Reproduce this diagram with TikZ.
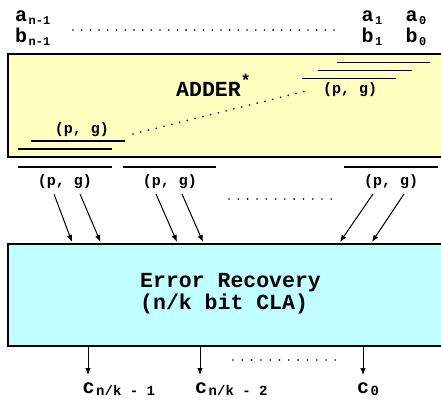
\documentclass[tikz,border=0pt]{standalone}
\usepackage{fontspec}
\usetikzlibrary{arrows.meta}
\newfontfamily\cour{Liberation Mono}
\definecolor{addfill}{RGB}{255,255,192}
\definecolor{recfill}{RGB}{192,255,255}
% lowered index in the mono face
\newcommand{\lo}[2][12]{\hspace{1.5pt}\raisebox{-0.2ex}{\fontsize{#1}{#1}\selectfont #2}}

\begin{document}
\begin{tikzpicture}[x=1pt,y=-1pt,
  big/.style={font=\cour\bfseries\fontsize{20}{20}\selectfont,inner sep=0pt},
  pg/.style={font=\cour\bfseries\fontsize{15}{15}\selectfont,inner sep=0pt},
  bus/.style={line width=1.5pt},
  dots/.style={line width=1.8pt,line cap=round,dash pattern=on 0pt off 8.7pt},
  arr/.style={line width=1pt,-{Latex[length=7pt,width=5.5pt]}}]
\useasboundingbox (0,0) rectangle (441,406);

% operand bits
\node[big,anchor=base west] (an) at (15,22) {a\lo{n-1}};
\node[big,anchor=base west] (bn) at (15,43) {b\lo{n-1}};
\node[big,anchor=base west] (a1) at (361.5,22) {a\lo{1}};
\node[big,anchor=base west] (b1) at (361.5,43) {b\lo{1}};
\node[big,anchor=base west] (a0) at (405.5,22) {a\lo{0}};
\node[big,anchor=base west] (b0) at (405.5,43) {b\lo{0}};
\draw[dots] (73,30) -- (337,30);

% the adder block
\node[draw,line width=2pt,fill=addfill,anchor=north west,
  minimum width=460pt,minimum height=103pt,inner sep=0pt] (add) at (7,53.5) {};
\node[big,font=\cour\bfseries\fontsize{21.5}{21.5}\selectfont,anchor=base west] (addtxt) at (176,97)
  {ADDER\raisebox{0.9ex}{\fontsize{17}{17}\selectfont *}};
\draw[bus] (337,62.5) -- (430,62.5);
\draw[bus] (318,70.5) -- (412,70.5);
\draw[bus] (302,78.5) -- (396,78.5);
\node[pg] (pghi) at (350,90) {(p, g)};
\node[pg] (pglo) at (82,130) {(p, g)};
\draw[bus] (31,141) -- (125,141);
\draw[bus] (18,149) -- (112,149);
\draw[dots,dash pattern=on 0pt off 8pt] (133,134) -- (306,91);

% group outputs
\draw[bus] (18,167) -- (112,167);
\draw[bus] (123,167) -- (216,167);
\draw[bus] (344,167) -- (438,167);
\node[pg] (pgA) at (65,182) {(p, g)};
\node[pg] (pgB) at (170,182) {(p, g)};
\node[pg] (pgC) at (391,182) {(p, g)};
\draw[dots,dash pattern=on 0pt off 9.3pt] (229,199) -- (337,199);

% the recovery block
\node[draw,line width=2pt,fill=recfill,anchor=north west,
  minimum width=460pt,minimum height=102pt,inner sep=0pt] (rec) at (7,243) {};
\node[font=\cour\bfseries\fontsize{21.5}{18.5}\selectfont,inner sep=0pt,
  align=left,anchor=base west] (rectxt) at (140,309) {Error Recovery\\(n/k bit CLA)};

\coordinate (pA1) at (54,194);   \coordinate (rA1) at (72,242);
\coordinate (pA2) at (80,194);   \coordinate (rA2) at (100.5,242);
\coordinate (pB1) at (156,194);  \coordinate (rB1) at (177,242);
\coordinate (pB2) at (182,194);  \coordinate (rB2) at (203,242);
\coordinate (pC1) at (373,194);  \coordinate (rC1) at (340,242);
\coordinate (pC2) at (404,194);  \coordinate (rC2) at (372,242);
\draw[arr] (pA1) -- (rA1);
\draw[arr] (pA2) -- (rA2);
\draw[arr] (pB1) -- (rB1);
\draw[arr] (pB2) -- (rB2);
\draw[arr] (pC1) -- (rC1);
\draw[arr] (pC2) -- (rC2);

% carries
\node[big,anchor=base west] (c1) at (82.5,393) {c\lo[14]{n/k - 1}};
\node[big,anchor=base west] (c2) at (195,393) {c\lo[14]{n/k - 2}};
\node[big,anchor=base west] (c0) at (357,393) {c\lo[14]{0}};
\coordinate (o1) at (88,345);  \coordinate (t1) at (88,375);
\coordinate (o2) at (200,345); \coordinate (t2) at (200,375);
\coordinate (o0) at (363,345); \coordinate (t0) at (363,375);
\draw[arr] (o1) -- (t1);
\draw[arr] (o2) -- (t2);
\draw[arr] (o0) -- (t0);
\draw[dots,dash pattern=on 0pt off 9.3pt] (233,360) -- (342,360);
\end{tikzpicture}
\end{document}
